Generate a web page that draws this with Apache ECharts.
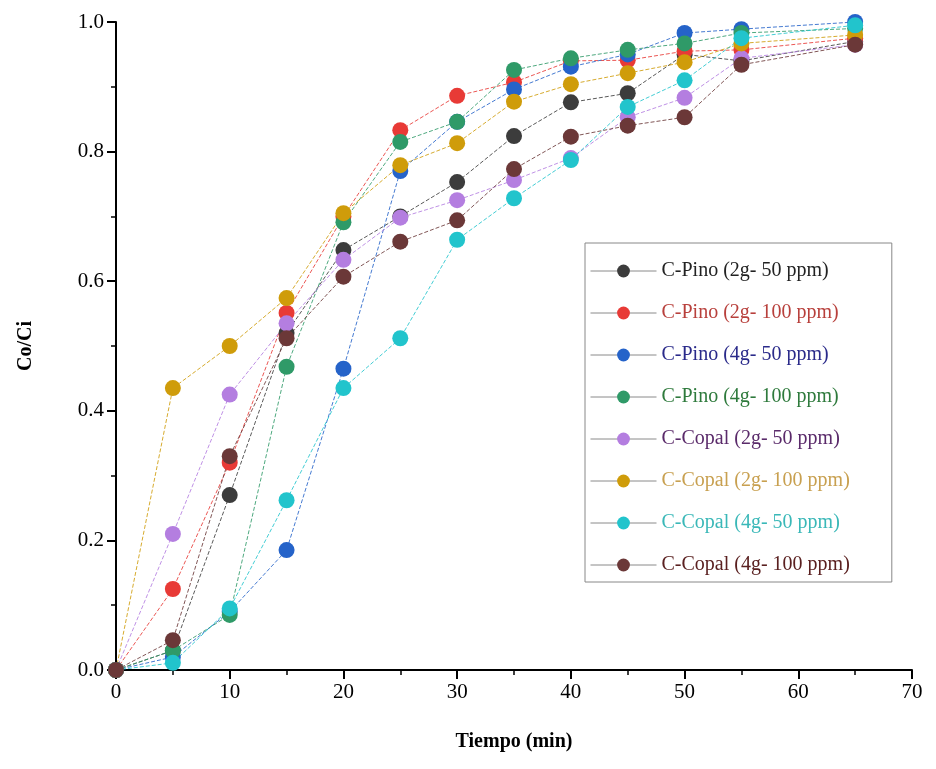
<!DOCTYPE html>
<html>
<head>
<meta charset="utf-8">
<script src="https://cdn.jsdelivr.net/npm/echarts@6/dist/echarts.min.js"></script>
<style>
  html, body { margin: 0; padding: 0; background: #fff; }
  #chart { width: 936px; height: 769px; }
</style>
</head>
<body>
<div id="chart"></div>
<script>
const tiempo = [0, 5, 10, 15, 20, 25, 30, 35, 40, 45, 50, 55, 65]

const pino2g50 = [0, 0.03, 0.27, 0.52, 0.648, 0.70, 0.753, 0.824, 0.876, 0.890, 0.95, 0.94, 0.97]
const pino2g100 = [0, 0.125, 0.32, 0.551, 0.70, 0.833, 0.886, 0.907, 0.94, 0.941, 0.955, 0.957, 0.975]
const pino4g50 = [0, 0.02, 0.09, 0.185, 0.465, 0.77, 0.846, 0.896, 0.931, 0.95, 0.983, 0.989, 1.0]
const pino4g100 = [0, 0.03, 0.085, 0.468, 0.691, 0.815, 0.846, 0.926, 0.944, 0.957, 0.967, 0.983, 0.99]
const copal2g50 = [0, 0.21, 0.425, 0.535, 0.633, 0.698, 0.725, 0.756, 0.79, 0.853, 0.883, 0.944, 0.965]
const copal2g100 = [0, 0.435, 0.50, 0.574, 0.705, 0.779, 0.813, 0.877, 0.904, 0.921, 0.938, 0.967, 0.98]
const copal4g50 = [0, 0.011, 0.095, 0.262, 0.435, 0.512, 0.664, 0.728, 0.787, 0.869, 0.910, 0.975, 0.995]
const copal4g100 = [0, 0.046, 0.33, 0.512, 0.607, 0.661, 0.694, 0.773, 0.823, 0.840, 0.853, 0.934, 0.965]

const names = [
  'C-Pino (2g- 50 ppm)', 'C-Pino (2g- 100 ppm)', 'C-Pino (4g- 50 ppm)', 'C-Pino (4g- 100 ppm)',
  'C-Copal (2g- 50 ppm)', 'C-Copal (2g- 100 ppm)', 'C-Copal (4g- 50 ppm)', 'C-Copal (4g- 100 ppm)'
]
const values = [pino2g50, pino2g100, pino4g50, pino4g100, copal2g50, copal2g100, copal4g50, copal4g100]
const colors = ['#3c3c3c', '#e83a36', '#2563c9', '#2f9a68', '#b47ee0', '#cf9c0a', '#22c4cc', '#6b3838']
const textColors = ['#222222', '#b8403c', '#2a2a8a', '#2e7a3c', '#5a2a6a', '#c8a050', '#3ab8b8', '#5a2020']

const serif = 'Liberation Serif, Times New Roman, serif'

const myChart = echarts.init(document.getElementById('chart'))

const series = names.map((name, i) => ({
  name: name,
  type: 'line',
  data: tiempo.map((t, j) => [t, values[i][j]]),
  symbol: 'circle',
  symbolSize: 16,
  itemStyle: { color: colors[i] },
  lineStyle: { color: colors[i], width: 1, type: 'dashed', opacity: 0.85 },
  emphasis: { disabled: true }
}))

const option = {
  animation: false,
  backgroundColor: '#fff',
  grid: { left: 116, right: 24, top: 22, bottom: 99 },
  legend: {
    orient: 'vertical',
    left: 585,
    top: 243,
    padding: [18, 42, 7, 5],
    itemGap: 22,
    itemWidth: 66,
    itemHeight: 16,
    borderColor: '#888',
    borderWidth: 1,
    lineStyle: { color: '#777', width: 1, type: 'solid' },
    textStyle: { fontFamily: serif, fontSize: 20 },
    data: names.map((n, i) => ({ name: n, textStyle: { color: textColors[i] } }))
  },
  xAxis: {
    type: 'value',
    min: 0,
    max: 70,
    interval: 10,
    name: 'Tiempo (min)',
    nameLocation: 'middle',
    nameGap: 62,
    nameTextStyle: { fontFamily: serif, fontSize: 20, fontWeight: 'bold', color: '#000' },
    axisLine: { lineStyle: { color: '#000', width: 2 } },
    axisTick: { inside: false, length: 9, lineStyle: { color: '#000', width: 2 } },
    minorTick: { show: true, splitNumber: 2, length: 5, lineStyle: { color: '#000', width: 1.5 } },
    axisLabel: { fontFamily: serif, fontSize: 21, color: '#000', margin: 12 },
    splitLine: { show: false }
  },
  yAxis: {
    type: 'value',
    min: 0,
    max: 1,
    interval: 0.2,
    name: 'Co/Ci',
    nameLocation: 'middle',
    nameGap: 80,
    nameRotate: 90,
    nameTextStyle: { fontFamily: serif, fontSize: 20, fontWeight: 'bold', color: '#000' },
    axisLine: { show: true, lineStyle: { color: '#000', width: 2 } },
    axisTick: { show: true, inside: false, length: 9, lineStyle: { color: '#000', width: 2 } },
    minorTick: { show: true, splitNumber: 2, length: 5, lineStyle: { color: '#000', width: 1.5 } },
    axisLabel: {
      fontFamily: serif, fontSize: 21, color: '#000', margin: 12,
      formatter: v => v.toFixed(1)
    },
    splitLine: { show: false }
  },
  series: series
}

myChart.setOption(option)
</script>
</body>
</html>
